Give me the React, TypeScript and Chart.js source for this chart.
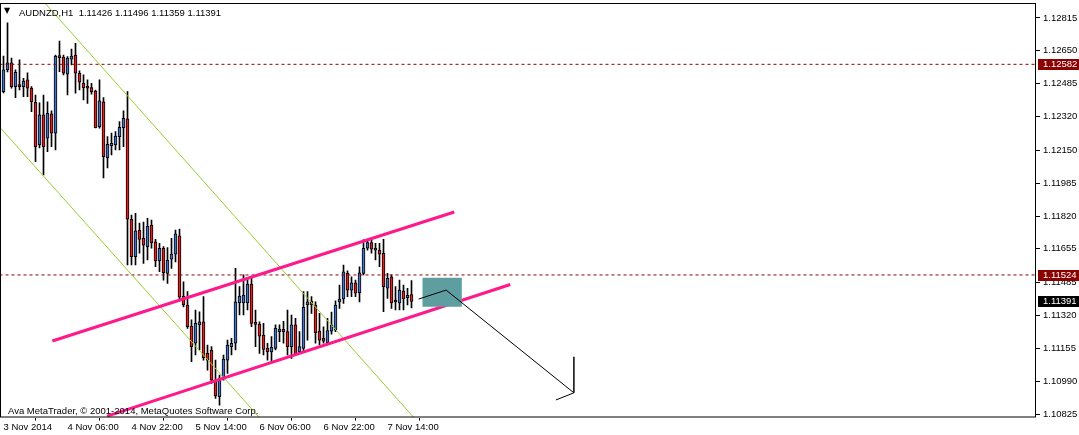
import React, { useEffect, useRef } from 'react';
import { Chart, registerables } from 'chart.js';

Chart.register(...registerables);

// AUDNZD H1, bar 0 = 3 Nov 2014 14:00
const opens = [
  1.12445, 1.12554, 1.1259, 1.1247, 1.12478, 1.1247, 1.12504, 1.12462, 1.12391, 1.12177,
  1.12328, 1.12211, 1.12333, 1.12236, 1.12624, 1.12618, 1.12532, 1.12608, 1.12629, 1.12537,
  1.12487, 1.1247, 1.12465, 1.12448, 1.12269, 1.12393, 1.12113, 1.12173, 1.12177, 1.12219,
  1.12264, 1.12308, 1.11804, 1.11616, 1.1175, 1.11708, 1.11666, 1.11775, 1.11691, 1.11594,
  1.11658, 1.11532, 1.11603, 1.11628, 1.1172, 1.11418, 1.11373, 1.11267, 1.11181, 1.11273,
  1.11289, 1.1113, 1.11147, 1.10996, 1.10912, 1.11005, 1.11096, 1.11164, 1.11181, 1.11384,
  1.11384, 1.11384, 1.11478, 1.11281, 1.11276, 1.11222, 1.11155, 1.11138, 1.11155, 1.11239,
  1.11251, 1.11239, 1.11164, 1.11273, 1.11138, 1.11155, 1.11373, 1.11393, 1.11373, 1.11242,
  1.11206, 1.11184, 1.11242, 1.11247, 1.11389, 1.11403, 1.11532, 1.11448, 1.11485, 1.11435,
  1.11532, 1.11658, 1.11686, 1.11649, 1.11649, 1.11633, 1.11457, 1.11515, 1.11393, 1.11384,
  1.11443, 1.1141, 1.11426,
];
const highs = [
  1.12624, 1.1279, 1.12613, 1.12554, 1.12604, 1.12512, 1.12539, 1.1247, 1.12428, 1.12388,
  1.12428, 1.12394, 1.12348, 1.12629, 1.12699, 1.12629, 1.12621, 1.12658, 1.12688, 1.12549,
  1.12529, 1.12504, 1.12487, 1.12453, 1.12504, 1.12415, 1.12219, 1.12236, 1.12244, 1.12294,
  1.12348, 1.12445, 1.11825, 1.11834, 1.11784, 1.11789, 1.11809, 1.118, 1.11703, 1.11683,
  1.11666, 1.11661, 1.11708, 1.1175, 1.11755, 1.1149, 1.1144, 1.11298, 1.11348, 1.11339,
  1.11415, 1.11172, 1.11164, 1.11096, 1.11021, 1.11122, 1.11197, 1.11206, 1.11557, 1.11465,
  1.11524, 1.11507, 1.11507, 1.11348, 1.11289, 1.11281, 1.11181, 1.11214, 1.11273, 1.11273,
  1.11291, 1.11348, 1.11323, 1.11306, 1.11239, 1.1144, 1.1144, 1.11415, 1.11389, 1.11331,
  1.11264, 1.11306, 1.11338, 1.11394, 1.11473, 1.11574, 1.11545, 1.11515, 1.11498, 1.11565,
  1.117, 1.117, 1.117, 1.11683, 1.11683, 1.11703, 1.11532, 1.11524, 1.11465, 1.11498,
  1.11473, 1.11457, 1.11496,
];
const lows = [
  1.12438, 1.12544, 1.12462, 1.12415, 1.12453, 1.1242, 1.1242, 1.12344, 1.12093, 1.12162,
  1.12026, 1.12143, 1.12168, 1.12152, 1.12545, 1.12529, 1.12428, 1.12579, 1.12437, 1.12453,
  1.12403, 1.12386, 1.12432, 1.12262, 1.12261, 1.12011, 1.12061, 1.12127, 1.12152, 1.12152,
  1.12168, 1.11574, 1.11574, 1.11574, 1.11633, 1.11582, 1.11599, 1.11658, 1.11565, 1.1154,
  1.11498, 1.11482, 1.11557, 1.1159, 1.11398, 1.11364, 1.11256, 1.11088, 1.11122, 1.11147,
  1.11096, 1.11046, 1.10979, 1.10904, 1.1087, 1.10996, 1.1103, 1.11122, 1.11147, 1.11323,
  1.11323, 1.11348, 1.11264, 1.11164, 1.1113, 1.11122, 1.11096, 1.11088, 1.11147, 1.11189,
  1.11181, 1.11122, 1.11105, 1.11122, 1.1113, 1.11143, 1.11197, 1.11331, 1.11181, 1.11172,
  1.11181, 1.11181, 1.11227, 1.11239, 1.11356, 1.11381, 1.11415, 1.11415, 1.11415, 1.11389,
  1.11524, 1.11649, 1.11633, 1.11599, 1.11565, 1.11339, 1.11406, 1.11356, 1.11348, 1.11348,
  1.11348, 1.11373, 1.11359,
];
const closes = [
  1.12554, 1.1259, 1.1247, 1.12542, 1.1247, 1.12498, 1.12462, 1.12394, 1.12168, 1.12328,
  1.12168, 1.12336, 1.12236, 1.12624, 1.12616, 1.12537, 1.12613, 1.12624, 1.12537, 1.12492,
  1.12465, 1.12462, 1.12445, 1.12264, 1.12398, 1.12118, 1.1218, 1.12185, 1.12222, 1.12266,
  1.12311, 1.11804, 1.11616, 1.11746, 1.11703, 1.11674, 1.1177, 1.11686, 1.11595, 1.11658,
  1.11535, 1.11599, 1.11629, 1.1173, 1.11413, 1.11373, 1.11264, 1.11164, 1.11281, 1.11289,
  1.11108, 1.11096, 1.10996, 1.10916, 1.11005, 1.11101, 1.11172, 1.11181, 1.11389, 1.11418,
  1.11423, 1.11478, 1.11281, 1.11276, 1.11217, 1.1115, 1.11138, 1.1116, 1.11256, 1.11252,
  1.11239, 1.11164, 1.11273, 1.11127, 1.11164, 1.11362, 1.11389, 1.11373, 1.11234, 1.11197,
  1.11192, 1.11244, 1.11273, 1.11373, 1.11403, 1.1154, 1.11448, 1.11485, 1.11432, 1.11535,
  1.11658, 1.11686, 1.11653, 1.11658, 1.11629, 1.11465, 1.11507, 1.11384, 1.11388, 1.11448,
  1.11403, 1.11422, 1.11391,
];

const xTickIndex = [0, 16, 32, 48, 64, 80, 96];
const xTickLabels = ['3 Nov 2014', '4 Nov 06:00', '4 Nov 22:00', '5 Nov 14:00', '6 Nov 06:00', '6 Nov 22:00', '7 Nov 14:00'];
const priceTicks = [1.12815, 1.1265, 1.12485, 1.1232, 1.1215, 1.11985, 1.1182, 1.11655, 1.11485, 1.1132, 1.11155, 1.1099, 1.10825];

// chart objects, as [bar index, price]
const levelLines = [1.12582, 1.11524];
const channelUpper = [[12.2, 1.11192], [112.7, 1.1184]];
const channelLower = [[25.9, 1.10815], [126.7, 1.11476]];
const greenUpper = [[10.35, 1.1289], [102.7, 1.10805]];
const greenLower = [[-0.75, 1.12262], [64.1, 1.10805]];
const boxX = [104.7, 114.6];
const boxY = [1.11364, 1.1151];
const arrowPath = [[103.8, 1.11403], [110.65, 1.11448], [142.6, 1.10932], [142.6, 1.11113], [142.6, 1.10932], [138.1, 1.10896]];
const lastPrice = 1.11391;

const FONT = { family: 'Liberation Sans, Arial, sans-serif', size: 9.5 };
const BULL = '#4472c4';
const BEAR = '#e0201f';
const LEVEL = '#8b0000';

const toPts = (arr: number[][]) => arr.map(([x, y]) => ({ x, y }));

const framePlugin = {
  id: 'frame',
  afterDraw(chart: any) {
    const { ctx, chartArea } = chart;
    const { left, top, right, bottom } = chartArea;
    const yScale = chart.scales.y;
    ctx.save();
    ctx.strokeStyle = '#000';
    ctx.lineWidth = 1;
    ctx.strokeRect(left - 0.5, top + 0.5, right - left, bottom - top - 1);

    // price tags on the axis
    const tags = [
      { v: levelLines[0], c: LEVEL },
      { v: levelLines[1], c: LEVEL },
      { v: lastPrice, c: '#000' },
    ];
    ctx.font = `${FONT.size}px ${FONT.family}`;
    ctx.textBaseline = 'middle';
    ctx.textAlign = 'left';
    tags.forEach((t) => {
      const y = Math.round(yScale.getPixelForValue(t.v));
      ctx.fillStyle = t.c;
      ctx.fillRect(right + 2, y - 5, 41, 11);
      ctx.fillStyle = '#fff';
      ctx.fillText(t.v.toFixed(5), right + 7, y + 0.5);
    });
    ctx.restore();
  },
};

const CandleChart: React.FC = () => {
  const canvasRef = useRef<HTMLCanvasElement | null>(null);
  const chartRef = useRef<Chart | null>(null);

  useEffect(() => {
    if (!canvasRef.current) return;
    if (chartRef.current) chartRef.current.destroy();

    const idx = opens.map((_, i) => i);
    const bodyColors = idx.map((i) => (closes[i] >= opens[i] ? BULL : BEAR));

    const line = (data: any[], color: string, width: number, order: number, extra: any = {}) => ({
      type: 'line' as const,
      data,
      borderColor: color,
      borderWidth: width,
      pointRadius: 0,
      tension: 0,
      fill: false,
      order,
      ...extra,
    });

    chartRef.current = new Chart(canvasRef.current, {
      type: 'bar',
      data: {
        datasets: [
          line(toPts(arrowPath), '#000', 1, 0),
          line(toPts(channelUpper), '#ff1a8c', 3, 2),
          line(toPts(channelLower), '#ff1a8c', 3, 2),
          line(toPts(greenUpper), '#9acd32', 1, 3),
          line(toPts(greenLower), '#9acd32', 1, 3),
          ...levelLines.map((v) =>
            line([{ x: -1, y: v }, { x: 260, y: v }], LEVEL, 1, 4, { borderDash: [3, 3] })
          ),
          line(boxX.map((x) => ({ x, y: boxY[1] })), '#5f9ea0', 0, 1, {
            fill: '+1',
            backgroundColor: '#5f9ea0',
          }),
          line(boxX.map((x) => ({ x, y: boxY[0] })), '#5f9ea0', 0, 1),
          {
            type: 'bar' as const,
            data: idx.map((i) => ({ x: i, y: [opens[i], closes[i]] })),
            backgroundColor: bodyColors,
            borderColor: '#000',
            borderWidth: 1,
            borderSkipped: false,
            barThickness: 3,
            minBarLength: 2,
            grouped: false,
            order: 10,
          },
          {
            type: 'bar' as const,
            data: idx.map((i) => ({ x: i, y: [lows[i], highs[i]] })),
            backgroundColor: '#000',
            borderWidth: 0,
            barThickness: 1,
            grouped: false,
            order: 11,
          },
        ] as any,
      },
      options: {
        responsive: true,
        maintainAspectRatio: false,
        animation: false,
        events: [],
        layout: { padding: { top: 3, left: 1, right: 0, bottom: 0 } },
        plugins: {
          legend: { display: false },
          tooltip: { enabled: false },
        },
        scales: {
          x: {
            type: 'linear',
            // 4 px per bar, bar centres on half pixels
            min: -0.625,
            max: 258.125,
            offset: false,
            afterBuildTicks: (s: any) => {
              s.ticks = xTickIndex.map((v) => ({ value: v }));
            },
            afterFit: (s: any) => {
              s.height = 17.5;
              s.paddingLeft = 0;
              s.paddingRight = 0;
            },
            grid: { drawOnChartArea: false, drawTicks: true, tickLength: 3, color: '#000' },
            border: { display: false },
            ticks: {
              autoSkip: false,
              maxRotation: 0,
              align: 'start',
              padding: 1,
              color: '#000',
              font: FONT,
              callback: (v: any) => {
                const k = xTickIndex.indexOf(Number(v));
                return k >= 0 ? xTickLabels[k] : '';
              },
            },
          },
          y: {
            type: 'linear',
            position: 'right',
            min: 1.10808,
            max: 1.1289,
            afterBuildTicks: (s: any) => {
              s.ticks = priceTicks.map((v) => ({ value: v }));
            },
            afterFit: (s: any) => {
              s.width = 43;
              s.paddingTop = 0;
              s.paddingBottom = 0;
            },
            grid: { drawOnChartArea: false, drawTicks: true, tickLength: 4, color: '#000' },
            border: { display: false },
            ticks: {
              padding: 3,
              color: '#000',
              font: FONT,
              callback: (v: any) => Number(v).toFixed(5),
            },
          },
        },
      } as any,
      plugins: [framePlugin],
    });

    return () => {
      if (chartRef.current) {
        chartRef.current.destroy();
        chartRef.current = null;
      }
    };
  }, []);

  return <canvas ref={canvasRef} />;
};

const textStyle: React.CSSProperties = {
  position: 'absolute',
  fontFamily: FONT.family,
  fontSize: FONT.size,
  lineHeight: 1,
  color: '#000',
  whiteSpace: 'pre',
  pointerEvents: 'none',
};

export default function App() {
  return (
    <div style={{ position: 'relative', width: 1079, height: 435, background: '#fff', overflow: 'hidden' }}>
      <style>{'body{margin:0}'}</style>
      <CandleChart />
      <div style={{ ...textStyle, left: 4, top: 7, fontFamily: 'DejaVu Sans', fontSize: 8 }}>▼</div>
      <div style={{ ...textStyle, left: 19, top: 7.5 }}>AUDNZD,H1  1.11426 1.11496 1.11359 1.11391</div>
      <div style={{ ...textStyle, left: 8, top: 405.5 }}>Ava MetaTrader, © 2001-2014, MetaQuotes Software Corp.</div>
    </div>
  );
}
